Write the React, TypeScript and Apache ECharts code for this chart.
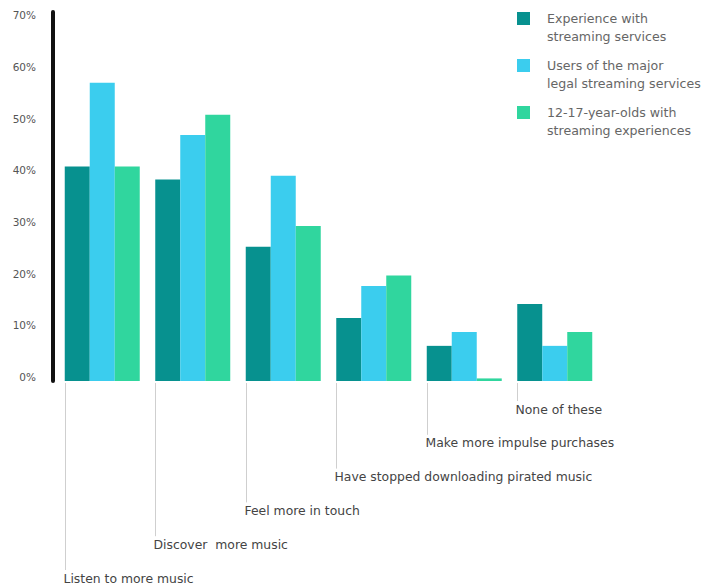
import React, { useEffect, useRef } from "react";
import * as echarts from "echarts";

const categories = [
  "Listen to more music",
  "Discover  more music",
  "Feel more in touch",
  "Have stopped downloading pirated music",
  "Make more impulse purchases",
  "None of these",
];
const seriesNames = [
  "Experience with\nstreaming services",
  "Users of the major\nlegal streaming services",
  "12-17-year-olds with\nstreaming experiences",
];
const experience = [41.5, 39, 26, 12.2, 6.8, 14.9];
const majorUsers = [57.7, 47.6, 39.7, 18.4, 9.5, 6.8];
const teens = [41.5, 51.5, 30, 20.4, 0.5, 9.5];
const colors = ["#07918f", "#3bcdee", "#30d69e"];

const FONT = "DejaVu Sans";
const BAR_W = 25;

export default function App() {
  const ref = useRef<HTMLDivElement>(null);
  useEffect(() => {
    if (!ref.current) return;
    const chart = echarts.init(ref.current, null, { renderer: "svg" });
    const n = categories.length;
    chart.setOption({
      animation: false,
      backgroundColor: "#ffffff",
      color: colors,
      legend: {
        orient: "vertical",
        left: 517,
        top: -8.5,
        padding: 0,
        icon: "rect",
        itemWidth: 13,
        itemHeight: 13,
        itemGap: -7,
        data: seriesNames,
        selectedMode: false,
        formatter: (name: string) => "\n" + name,
        textStyle: {
          fontFamily: FONT,
          fontSize: 12.6,
          color: "#666",
          lineHeight: 18,
          padding: [0, 0, 0, 12],
        },
      },
      grid: { left: 57, right: 109, top: 12, bottom: 205, containLabel: false },
      xAxis: {
        type: "category",
        data: categories,
        axisLine: { show: false },
        axisTick: { show: false },
        axisLabel: { show: false },
        splitLine: { show: false },
      },
      yAxis: {
        type: "value",
        min: 0,
        max: 71.4,
        interval: 10,
        offset: 4,
        axisLine: { show: true, lineStyle: { color: "#111", width: 4 } },
        axisTick: { show: false },
        splitLine: { show: false },
        axisLabel: {
          showMaxLabel: false,
          margin: 17,
          fontFamily: FONT,
          fontSize: 10.5,
          color: "#555",
          verticalAlign: "bottom",
          lineHeight: 8,
          formatter: (v: number) => (v % 10 === 0 ? `${v}%` : ""),
        },
      },
      series: [
        ...[experience, majorUsers, teens].map((d, i) => ({
          name: seriesNames[i],
          type: "bar",
          data: d,
          barWidth: BAR_W,
          barGap: "0%",
          itemStyle: { color: colors[i] },
        })),
        {
          type: "custom",
          clip: false,
          silent: true,
          data: categories.map((_, i) => [i, 0]),
          encode: { x: 0, y: 1 },
          renderItem: (params: any, api: any) => {
            const idx = api.value(0);
            const p = api.coord([idx, 0]);
            const x = Math.round(p[0] - BAR_W * 1.5) + 0.5;
            const labelY = p[1] + 28 + (n - 1 - idx) * 33.8;
            return {
              type: "group",
              children: [
                {
                  type: "line",
                  shape: { x1: x, y1: p[1] + 2, x2: x, y2: labelY - 8 },
                  style: { stroke: "#cfcfcf", lineWidth: 1 },
                },
                {
                  type: "text",
                  x: x - 2,
                  y: labelY,
                  style: {
                    text: categories[idx],
                    fontFamily: FONT,
                    fontSize: 12.4,
                    lineHeight: 13,
                    fill: "#444",
                    align: "left",
                    verticalAlign: "middle",
                  },
                },
              ],
            };
          },
        },
      ],
    });
    return () => chart.dispose();
  }, []);
  return (
    <div
      ref={ref}
      style={{ position: "fixed", left: 0, top: 0, width: 709, height: 586 }}
    />
  );
}
